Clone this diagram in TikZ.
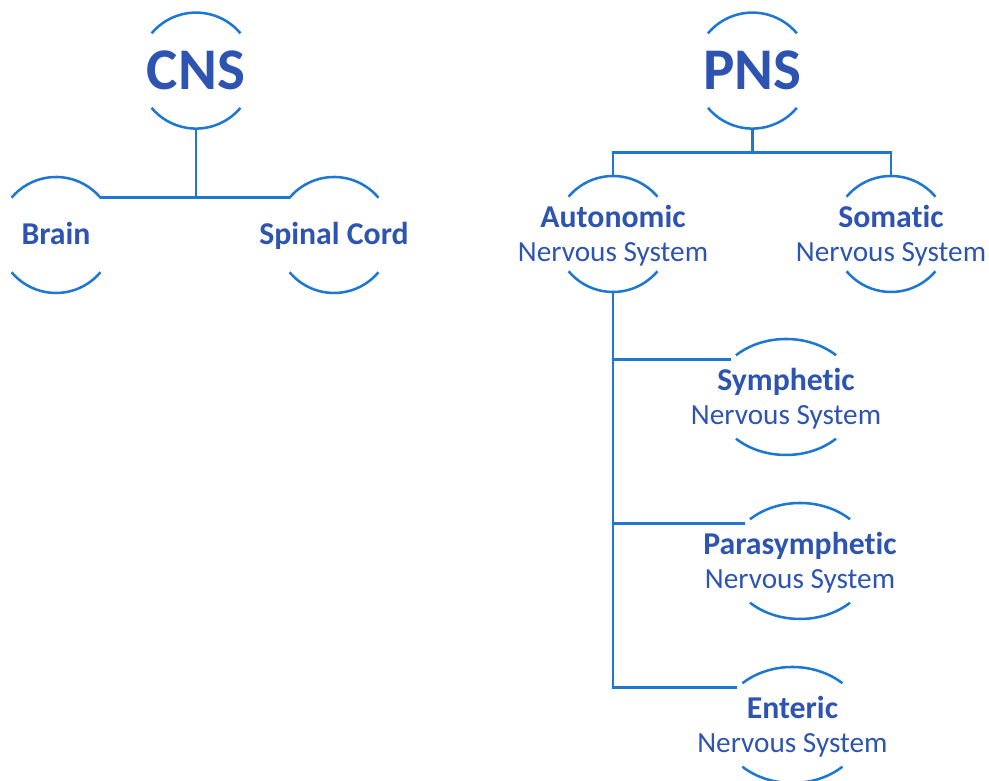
\documentclass[tikz,border=0pt]{standalone}
\usepackage{fontspec}
\setmainfont{Carlito}[Ligatures=NoCommon]
\usetikzlibrary{shapes.geometric}
\definecolor{wireblue}{RGB}{30,120,210}
\definecolor{inkblue}{RGB}{46,84,178}
\tikzset{
  wire/.style={draw=wireblue, line width=1.8pt},
  ring/.style={circle, minimum size=2.9cm, inner sep=0pt, outer sep=0pt},
  widering/.style={ellipse, minimum width=3.6cm, minimum height=2.9cm, inner sep=0pt, outer sep=0pt},
  bigname/.style={text=inkblue, font=\fontsize{42}{42}\selectfont\bfseries},
  partname/.style={text=inkblue, text depth=0pt, font=\fontsize{22.6}{24}\selectfont\bfseries},
  twoline/.style={text=inkblue, align=center, font=\fontsize{20.8}{24}\selectfont},
}
\newcommand{\headword}[1]{{\fontsize{22.6}{24}\selectfont\bfseries #1}}
% top and bottom arcs of a ring: node, x radius, y radius, angle
\newcommand{\rimarcs}[4]{%
  \draw[wire] (#1.center) ++(#4:#2 and #3) arc[start angle=#4, end angle=180-#4, x radius=#2, y radius=#3];
  \draw[wire] (#1.center) ++(-#4:#2 and #3) arc[start angle=-#4, end angle=-180+#4, x radius=#2, y radius=#3];}
\begin{document}
\begin{tikzpicture}
	\useasboundingbox (0,0) rectangle (24.725,19.525);

	% central
	\node[ring] (cns) at (4.9, 17.76) {};
	\node[ring] (brain) at (1.4, 13.65) {};
	\node[ring] (spinal) at (8.35, 13.65) {};
	\node[bigname] (cnstext) at (cns) {CNS};
	\node[partname] (braintext) at ([yshift=0.03cm]brain) {Brain};
	\node[partname] (spinaltext) at ([yshift=0.03cm]spinal) {Spinal Cord};

	% peripheral
	\node[ring] (pns) at (18.81, 17.76) {};
	\node[ring] (auto) at (15.325, 13.675) {};
	\node[ring] (soma) at (22.275, 13.675) {};
	\node[widering] (symp) at (19.65, 9.6) {};
	\node[widering] (para) at (20.0, 5.5) {};
	\node[widering] (ent) at (19.81, 1.4) {};
	\node[bigname] (pnstext) at (pns) {PNS};
	\node[twoline] (autotext) at ([yshift=-0.05cm]auto) {\headword{Autonomic}\\Nervous System};
	\node[twoline] (somatext) at ([yshift=-0.05cm]soma) {\headword{Somatic}\\Nervous System};
	\node[twoline] (symptext) at ([yshift=-0.05cm]symp) {\headword{Symphetic}\\Nervous System};
	\node[twoline] (paratext) at ([yshift=-0.05cm]para) {\headword{Parasymphetic}\\Nervous System};
	\node[twoline] (enttext) at ([yshift=-0.05cm]ent) {\headword{Enteric}\\Nervous System};

	\rimarcs{cns}{1.45cm}{1.45cm}{40}
	\rimarcs{brain}{1.45cm}{1.45cm}{40}
	\rimarcs{spinal}{1.45cm}{1.45cm}{40}
	\rimarcs{pns}{1.45cm}{1.45cm}{40}
	\rimarcs{auto}{1.45cm}{1.45cm}{40}
	\rimarcs{soma}{1.45cm}{1.45cm}{40}
	\rimarcs{symp}{1.8cm}{1.45cm}{46}
	\rimarcs{para}{1.8cm}{1.45cm}{46}
	\rimarcs{ent}{1.8cm}{1.45cm}{46}

	\draw[wire] (cns.south) |- (brain.40);
	\draw[wire] (cns.south) |- (spinal.140);

	\draw[wire] (pns.south) -- ++(0,-0.6) coordinate (fork);
	\draw[wire] (auto.north) |- (fork) -| (soma.north);

	\draw[wire] (auto.south) |- (symp.146);
	\draw[wire] (auto.south) |- (para.146);
	\draw[wire] (auto.south) |- (ent.146);
\end{tikzpicture}
\end{document}
